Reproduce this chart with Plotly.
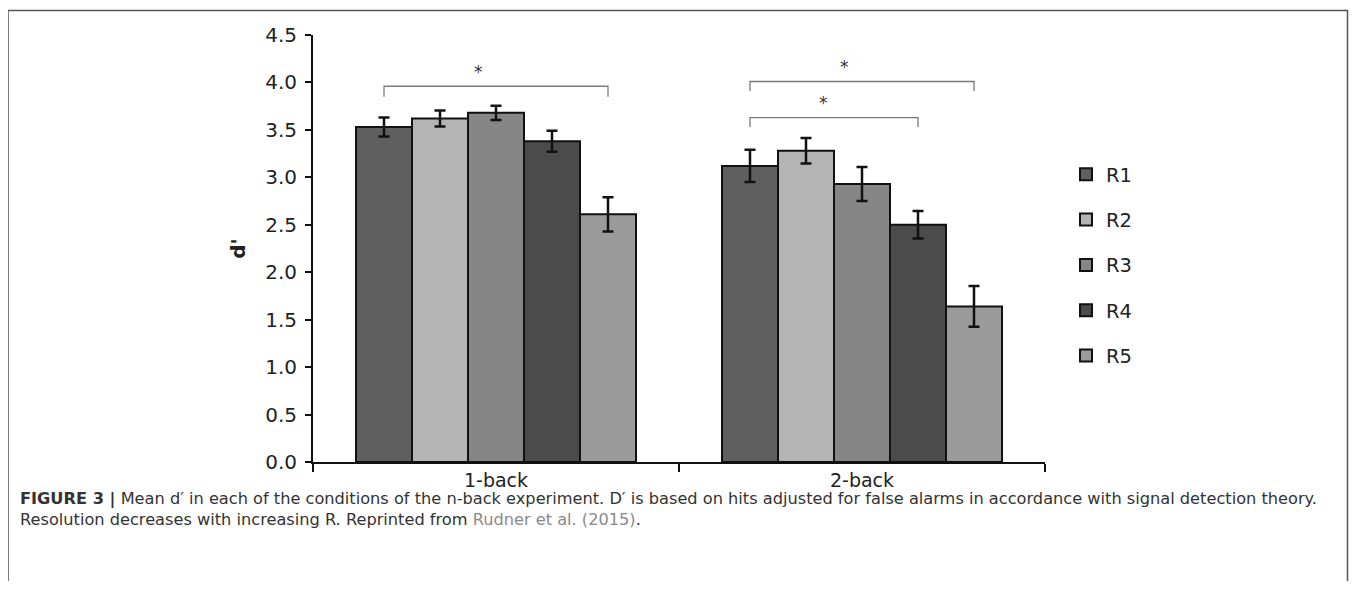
import plotly.graph_objects as go

# ---- data ----
categories = ["1-back", "2-back"]
series_names = ["R1", "R2", "R3", "R4", "R5"]
r1 = [3.53, 3.12]
r2 = [3.62, 3.28]
r3 = [3.68, 2.93]
r4 = [3.38, 2.50]
r5 = [2.61, 1.64]
r1_err = [0.10, 0.17]
r2_err = [0.085, 0.135]
r3_err = [0.075, 0.18]
r4_err = [0.11, 0.145]
r5_err = [0.18, 0.215]
y_ticks = [0.0, 0.5, 1.0, 1.5, 2.0, 2.5, 3.0, 3.5, 4.0, 4.5]
# significance brackets: (category index, from series, to series, bracket top, leg bottom)
bracket_cat = [0, 1, 1]
bracket_from = [0, 0, 0]
bracket_to = [4, 4, 3]
bracket_top = [3.96, 4.01, 3.63]
bracket_bottom = [3.85, 3.91, 3.53]
caption_line1 = ("<b>FIGURE 3 |</b> Mean d\u2032 in each of the conditions of the n-back experiment. "
                 "D\u2032 is based on hits adjusted for false alarms in accordance with signal detection theory.")
caption_line2 = ("Resolution decreases with increasing R. Reprinted from "
                 "<span style='color:#8a8a8a'>Rudner et al. (2015)</span>.")

# ---- styles ----
colors = ["#5f5f5f", "#b4b4b4", "#868686", "#4b4b4b", "#9b9b9b"]
values = [r1, r2, r3, r4, r5]
errors = [r1_err, r2_err, r3_err, r4_err, r5_err]
bargap = 0.235
star_shift = [-0.32, -0.32, -0.18]  # in bar widths

OFF = 8  # default page body margin
W, H = 1357 - 2 * OFF, 589 - 2 * OFF   # no scrollbars
# plot area in reference page pixels: x 313..1045, y 35..462
ml = 313 - OFF
mt = 35 - OFF
mr = W - (1045 - OFF)
mb = H - (462 - OFF)
pw = W - ml - mr
ph = H - mt - mb

def px_x(p):
    return (p - OFF - ml) / pw

def px_y(p):
    return (H - mb - (p - OFF)) / ph

FONT = "DejaVu Sans"

fig = go.Figure()
for name, vals, errs, col in zip(series_names, values, errors, colors):
    fig.add_trace(go.Bar(
        x=categories, y=vals, name=name,
        marker=dict(color=col, line=dict(color="#111111", width=2)),
        error_y=dict(type="data", array=errs, visible=True, color="#111111",
                     thickness=2.5, width=5.5),
        legendgroup=name,
    ))

bw = (1 - bargap) / len(series_names)
def center(cat, i):
    return cat + (i - (len(series_names) - 1) / 2) * bw

shapes = []
annotations = []
for k in range(len(bracket_cat)):
    xa = center(bracket_cat[k], bracket_from[k])
    xb = center(bracket_cat[k], bracket_to[k])
    yt = bracket_top[k]
    yb = bracket_bottom[k]
    shapes.append(dict(type="path", xref="x", yref="y",
                       path=f"M {xa},{yb} L {xa},{yt} L {xb},{yt} L {xb},{yb}",
                       line=dict(color="#7a7a7a", width=1.3)))
    annotations.append(dict(x=(xa + xb) / 2 + star_shift[k] * bw, y=yt + 0.15, xref="x", yref="y",
                            text="*", showarrow=False,
                            font=dict(family=FONT, size=17, color="#333333")))

# outer frame
shapes.append(dict(type="rect", xref="paper", yref="paper",
                   x0=px_x(8), x1=px_x(1347.5), y0=px_y(620), y1=px_y(10.5),
                   line=dict(color="#555555", width=1.5), fillcolor="rgba(0,0,0,0)", layer="below"))

annotations.append(dict(xref="paper", yref="paper", x=px_x(18), y=px_y(499),
                        xanchor="left", yanchor="middle", align="left",
                        text=caption_line1, showarrow=False,
                        font=dict(family=FONT, size=16.2, color="#333333")))
annotations.append(dict(xref="paper", yref="paper", x=px_x(18), y=px_y(520),
                        xanchor="left", yanchor="middle", align="left",
                        text=caption_line2, showarrow=False,
                        font=dict(family=FONT, size=16.2, color="#333333")))

fig.update_layout(
    width=W, height=H,
    margin=dict(l=ml, r=mr, t=mt, b=mb, autoexpand=False),
    paper_bgcolor="white", plot_bgcolor="white",
    barmode="group", bargap=bargap, bargroupgap=0,
    font=dict(family=FONT, size=18, color="#222222"),
    showlegend=True,
    legend=dict(x=px_x(1066), y=px_y(155), xanchor="left", yanchor="top",
                font=dict(family=FONT, size=19.5, color="#222222"),
                tracegroupgap=17, bgcolor="rgba(0,0,0,0)"),
    shapes=shapes, annotations=annotations,
    xaxis=dict(type="category", showline=True, linecolor="#111111", linewidth=2,
               ticks="outside", tickson="boundaries", ticklen=8, tickwidth=2, tickcolor="#111111",
               showgrid=False, tickfont=dict(size=19), ticklabelstandoff=0),
    yaxis=dict(range=[0, 4.5], tickvals=y_ticks, ticktext=[f"{v:.1f}" for v in y_ticks],
               showline=True, linecolor="#111111", linewidth=2,
               ticks="outside", ticklen=6, tickwidth=2, tickcolor="#111111",
               showgrid=False, zeroline=False, tickfont=dict(size=20), ticklabelstandoff=4,
               title=dict(text="<b>d'</b>", font=dict(size=20), standoff=14)),
)

fig.write_html("out.html")
